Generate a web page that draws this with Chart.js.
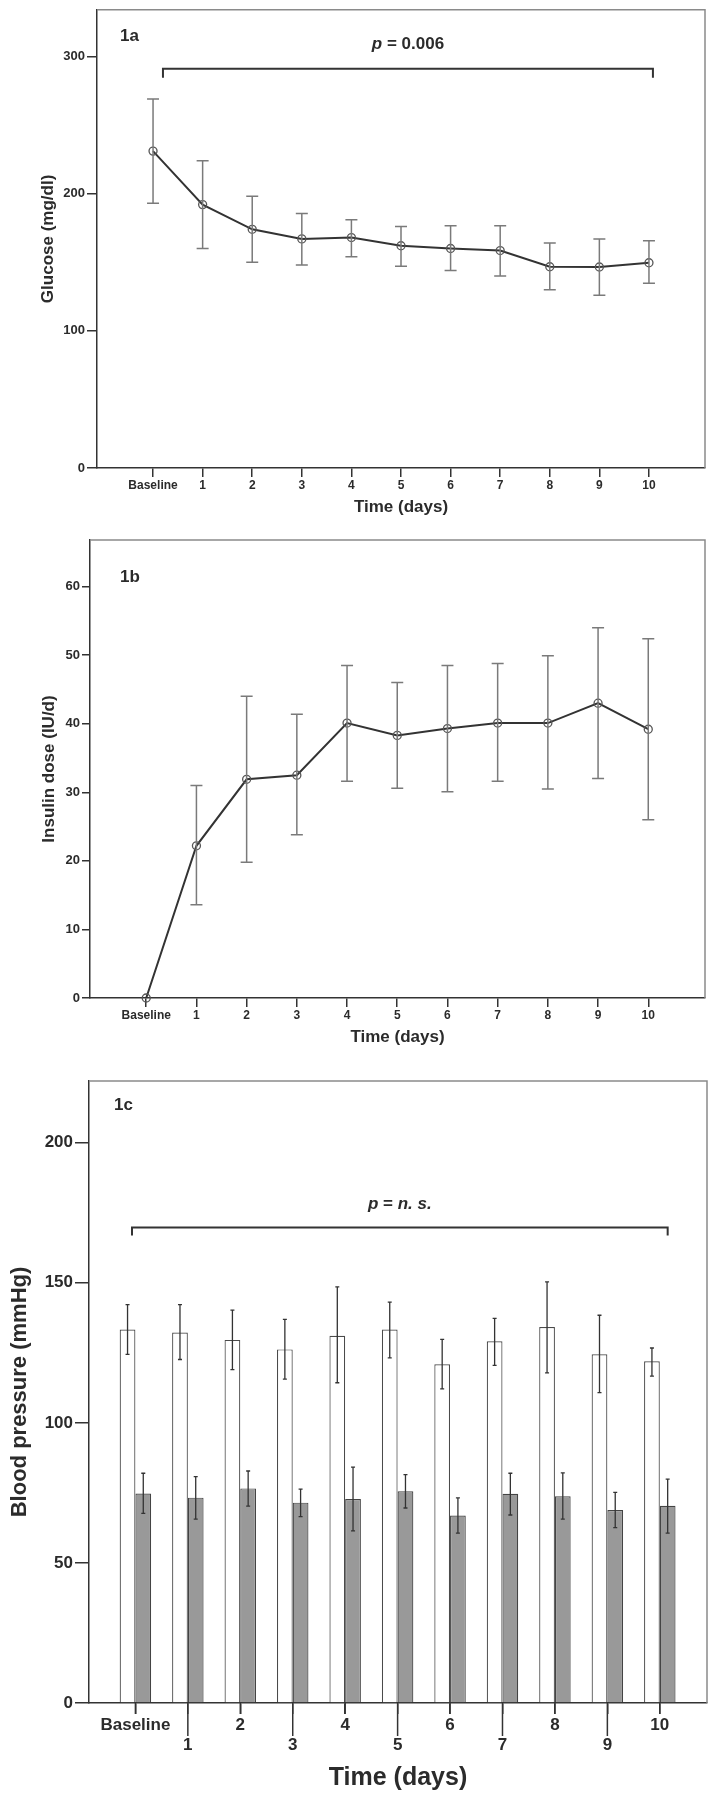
<!DOCTYPE html>
<html lang="en">
<head>
  <meta charset="UTF-8" />
  <title>Glucose, insulin dose and blood pressure over 10 days</title>
  <script src="https://cdn.jsdelivr.net/npm/chart.js"></script>
  <style>
    body {
      margin: 0;
      background: #fff;
      width: 712px;
      height: 1800px;
      position: relative;
      overflow: hidden;
    }
    canvas {
      position: absolute;
      left: 0;
    }
    #glucoseChart { top: 0; }
    #insulinChart { top: 530px; }
    #pressureChart { top: 1060px; }
  </style>
</head>
<body>
  <canvas id="glucoseChart" width="712" height="530"></canvas>
  <canvas id="insulinChart" width="712" height="530"></canvas>
  <canvas id="pressureChart" width="712" height="740"></canvas>

  <script>
    // ---------------------------------------------------------------
    // Data
    // ---------------------------------------------------------------
    const dayLabels = ['Baseline', '1', '2', '3', '4', '5', '6', '7', '8', '9', '10'];

    const glucoseMean  = [231, 192, 174, 167, 168, 162, 160, 158.5, 146.7, 146.5, 149.6];
    const glucoseUpper = [269, 224, 198, 185.5, 181, 176, 176.5, 176.5, 164, 167, 165.6];
    const glucoseLower = [193, 160, 150, 148, 154, 147, 144, 140, 130, 126, 134.6];
    const glucoseTicks = [0, 100, 200, 300];

    const insulinMean  = [0, 22.2, 31.9, 32.5, 40.1, 38.3, 39.3, 40.1, 40.1, 43.0, 39.2];
    const insulinUpper = [null, 31.0, 44.0, 41.4, 48.5, 46.0, 48.5, 48.8, 49.9, 54.0, 52.4];
    const insulinLower = [null, 13.6, 19.8, 23.8, 31.6, 30.6, 30.1, 31.6, 30.5, 32.0, 26.0];
    const insulinTicks = [0, 10, 20, 30, 40, 50, 60];

    const systolicMean  = [133.3, 132.2, 129.6, 126.2, 131.1, 133.3, 120.9, 129.1, 134.2, 124.5, 122.0];
    const systolicUpper = [142.2, 142.2, 140.2, 136.9, 148.5, 143.1, 129.8, 137.3, 150.3, 138.4, 126.7];
    const systolicLower = [124.4, 122.6, 119.0, 115.6, 114.3, 123.2, 112.1, 120.5, 117.8, 110.8, 116.7];
    const diastolicMean  = [74.8, 73.3, 76.6, 71.5, 72.8, 75.6, 66.9, 74.7, 73.8, 68.9, 70.4];
    const diastolicUpper = [82.0, 80.8, 82.8, 76.3, 84.2, 81.5, 73.2, 82.0, 82.1, 75.2, 79.9];
    const diastolicLower = [67.7, 65.6, 70.3, 66.5, 61.4, 69.6, 60.6, 67.1, 65.6, 62.6, 60.6];
    const pressureTicks = [0, 50, 100, 150, 200];

    const FONT = "'Liberation Sans', Arial, sans-serif";
    const INK = '#2b2b2b';

    // ---------------------------------------------------------------
    // Small plugins: error bars, frame, panel tag, significance bracket
    // ---------------------------------------------------------------
    function errorBars(sets) {
      return {
        id: 'errorBars',
        afterDatasetsDraw(chart) {
          const ctx = chart.ctx;
          const yScale = chart.scales.y;
          sets.forEach(set => {
            const meta = chart.getDatasetMeta(set.dataset);
            ctx.save();
            ctx.strokeStyle = set.color;
            ctx.lineWidth = set.width;
            meta.data.forEach((el, i) => {
              const hi = set.upper[i], lo = set.lower[i];
              if (hi == null || lo == null) return;
              const x = el.x;
              const yHi = yScale.getPixelForValue(hi);
              const yLo = yScale.getPixelForValue(lo);
              ctx.beginPath();
              ctx.moveTo(x, yHi); ctx.lineTo(x, yLo);
              ctx.moveTo(x - set.cap, yHi); ctx.lineTo(x + set.cap, yHi);
              ctx.moveTo(x - set.cap, yLo); ctx.lineTo(x + set.cap, yLo);
              ctx.stroke();
            });
            ctx.restore();
          });
        }
      };
    }

    // top and right edges of the plot box (left/bottom are the axes)
    const frame = {
      id: 'frame',
      beforeDatasetsDraw(chart) {
        const {ctx, chartArea: a} = chart;
        ctx.save();
        ctx.strokeStyle = '#8a8a8a';
        ctx.lineWidth = 1.5;
        ctx.beginPath();
        ctx.moveTo(a.left, a.top);
        ctx.lineTo(a.right, a.top);
        ctx.lineTo(a.right, a.bottom);
        ctx.stroke();
        ctx.restore();
      }
    };

    function panelTag(text, dx, dy, size) {
      return {
        id: 'panelTag',
        afterDraw(chart) {
          const {ctx, chartArea: a} = chart;
          ctx.save();
          ctx.font = 'bold ' + size + 'px ' + FONT;
          ctx.fillStyle = INK;
          ctx.textBaseline = 'middle';
          ctx.fillText(text, a.left + dx, a.top + dy);
          ctx.restore();
        }
      };
    }

    // parts: [{text, italic}]
    function bracket(from, to, level, tip, labelGap, parts, size) {
      return {
        id: 'bracket',
        afterDraw(chart) {
          const {ctx, scales: {x, y}} = chart;
          const x0 = x.getPixelForValue(from);
          const x1 = x.getPixelForValue(to);
          const yb = y.getPixelForValue(level);
          ctx.save();
          ctx.strokeStyle = '#333';
          ctx.lineWidth = 2;
          ctx.beginPath();
          ctx.moveTo(x0, yb + tip);
          ctx.lineTo(x0, yb);
          ctx.lineTo(x1, yb);
          ctx.lineTo(x1, yb + tip);
          ctx.stroke();

          const fontOf = p => (p.italic ? 'italic ' : '') + 'bold ' + size + 'px ' + FONT;
          let total = 0;
          parts.forEach(p => { ctx.font = fontOf(p); total += ctx.measureText(p.text).width; });
          let cx = (x0 + x1) / 2 - total / 2;
          ctx.fillStyle = INK;
          ctx.textBaseline = 'middle';
          parts.forEach(p => {
            ctx.font = fontOf(p);
            ctx.fillText(p.text, cx, yb - labelGap);
            cx += ctx.measureText(p.text).width;
          });
          ctx.restore();
        }
      };
    }

    // 1c: odd days sit on a second label row with longer tick marks
    const staggerTicks = {
      id: 'staggerTicks',
      afterDraw(chart) {
        const {ctx, chartArea: a, scales: {x}} = chart;
        ctx.save();
        ctx.strokeStyle = '#333';
        ctx.lineWidth = 1.5;
        dayLabels.forEach((_, i) => {
          const px = x.getPixelForValue(i);
          ctx.beginPath();
          ctx.moveTo(px, a.bottom);
          ctx.lineTo(px, a.bottom + (i % 2 ? 33 : 11));
          ctx.stroke();
        });
        ctx.restore();
      }
    };

    // ---------------------------------------------------------------
    // Shared axis builders
    // ---------------------------------------------------------------
    function dayAxis(min, max, fontSize, axisHeight, titleSize, titlePad, tickLen, stagger) {
      return {
        type: 'linear',
        min: min,
        max: max,
        offset: false,
        afterBuildTicks: axis => { axis.ticks = dayLabels.map((_, i) => ({value: i})); },
        afterFit: axis => { axis.height = axisHeight; },
        ticks: {
          autoSkip: false,
          maxRotation: 0,
          minRotation: 0,
          padding: 1,
          color: INK,
          font: {family: FONT, size: fontSize, weight: 'bold'},
          callback: v => (stagger && v % 2 === 1) ? ['', dayLabels[v]] : dayLabels[v]
        },
        grid: {offset: false, drawOnChartArea: false, drawTicks: true, tickLength: tickLen, color: '#333', lineWidth: 1.5},
        border: {display: true, color: '#333', width: 1.5},
        title: {
          display: true,
          text: 'Time (days)',
          color: INK,
          font: {family: FONT, size: titleSize, weight: 'bold'},
          padding: {top: 0, bottom: titlePad}
        }
      };
    }

    function valueAxis(max, tickValues, fontSize, axisWidth, title, titleSize, titlePad, tickLen) {
      return {
        min: 0,
        max: max,
        afterBuildTicks: axis => { axis.ticks = tickValues.map(v => ({value: v})); },
        afterFit: axis => { axis.width = axisWidth; },
        ticks: {
          padding: 2,
          color: INK,
          font: {family: FONT, size: fontSize, weight: 'bold'}
        },
        grid: {drawOnChartArea: false, drawTicks: true, tickLength: tickLen, color: '#333', lineWidth: 1.5},
        border: {display: true, color: '#333', width: 1.5},
        title: {
          display: true,
          text: title,
          color: INK,
          font: {family: FONT, size: titleSize, weight: 'bold'},
          padding: {top: titlePad, bottom: 0}
        }
      };
    }

    function lineDataset(values) {
      return {
        data: values.map((v, i) => ({x: i, y: v})),
        borderColor: '#333333',
        borderWidth: 2,
        pointRadius: 4,
        pointBorderWidth: 1.3,
        pointBorderColor: '#555',
        pointBackgroundColor: 'rgba(0,0,0,0)',
        tension: 0,
        clip: false
      };
    }

    const baseOptions = {
      responsive: false,
      animation: false,
      plugins: {legend: {display: false}, tooltip: {enabled: false}}
    };

    // ---------------------------------------------------------------
    // 1a: glucose
    // ---------------------------------------------------------------
    new Chart(document.getElementById('glucoseChart'), {
      type: 'line',
      data: {datasets: [lineDataset(glucoseMean)]},
      options: {
        ...baseOptions,
        layout: {padding: {top: 8, right: 7, left: 0, bottom: 0}},
        scales: {
          x: dayAxis(-1.13, 11.13, 12, 62, 17, 12, 9, false),
          y: valueAxis(334, glucoseTicks, 13, 97, 'Glucose (mg/dl)', 17, 38, 10)
        }
      },
      plugins: [
        frame,
        errorBars([{dataset: 0, upper: glucoseUpper, lower: glucoseLower, cap: 6, color: '#7a7a7a', width: 1.5}]),
        panelTag('1a', 23, 27, 17),
        bracket(0.2, 10.08, 291, 9, 24, [{text: 'p', italic: true}, {text: ' = 0.006'}], 17)
      ]
    });

    // ---------------------------------------------------------------
    // 1b: insulin dose
    // ---------------------------------------------------------------
    new Chart(document.getElementById('insulinChart'), {
      type: 'line',
      data: {datasets: [lineDataset(insulinMean)]},
      options: {
        ...baseOptions,
        layout: {padding: {top: 10, right: 7, left: 0, bottom: 0}},
        scales: {
          x: dayAxis(-1.12, 11.13, 12, 62, 17, 12, 9, false),
          y: valueAxis(66.8, insulinTicks, 13, 90, 'Insulin dose (IU/d)', 17, 39, 8)
        }
      },
      plugins: [
        frame,
        errorBars([{dataset: 0, upper: insulinUpper, lower: insulinLower, cap: 6, color: '#7a7a7a', width: 1.5}]),
        panelTag('1b', 30, 37, 17)
      ]
    });

    // ---------------------------------------------------------------
    // 1c: blood pressure (systolic white, diastolic grey)
    // ---------------------------------------------------------------
    new Chart(document.getElementById('pressureChart'), {
      type: 'bar',
      data: {
        datasets: [
          {
            label: 'Systolic',
            data: systolicMean.map((v, i) => ({x: i, y: v})),
            backgroundColor: '#ffffff',
            borderColor: '#4a4a4a',
            borderWidth: 1.2,
            categoryPercentage: 0.6,
            barPercentage: 1.0
          },
          {
            label: 'Diastolic',
            data: diastolicMean.map((v, i) => ({x: i, y: v})),
            backgroundColor: '#999999',
            borderColor: '#444444',
            borderWidth: 1.2,
            categoryPercentage: 0.6,
            barPercentage: 1.0
          }
        ]
      },
      options: {
        ...baseOptions,
        layout: {padding: {top: 21, right: 5, left: 0, bottom: 0}},
        scales: {
          x: dayAxis(-0.885, 10.9, 17, 97, 25, 7, 11, true),
          y: valueAxis(222, pressureTicks, 17, 89, 'Blood pressure (mmHg)', 22, 7, 14)
        }
      },
      plugins: [
        frame,
        errorBars([
          {dataset: 0, upper: systolicUpper, lower: systolicLower, cap: 2, color: '#333', width: 1.3},
          {dataset: 1, upper: diastolicUpper, lower: diastolicLower, cap: 2, color: '#333', width: 1.3}
        ]),
        panelTag('1c', 25, 24, 17),
        bracket(-0.065, 10.15, 169.7, 8, 23,
          [{text: 'p', italic: true}, {text: ' = '}, {text: 'n. s.', italic: true}], 17),
        staggerTicks
      ]
    });
  </script>
</body>
</html>
